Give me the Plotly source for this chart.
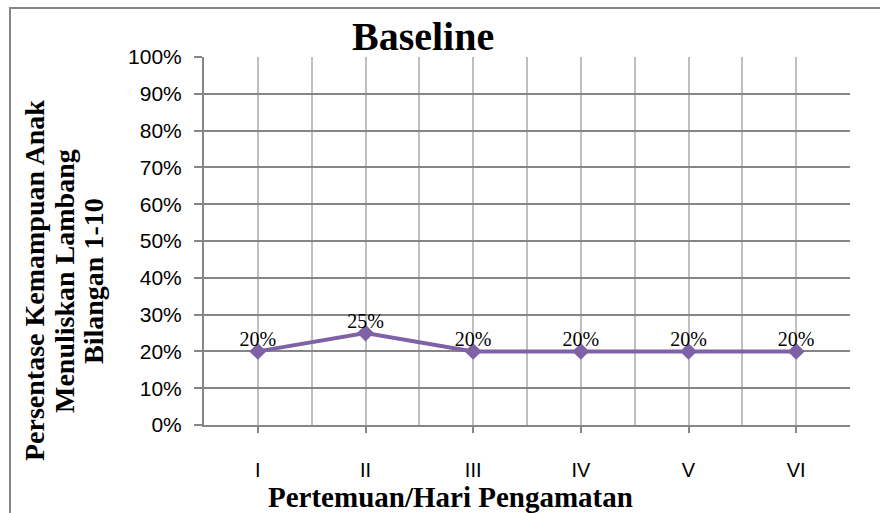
import plotly.graph_objects as go

# Observation sessions and the measured score for each
sessions = ["I", "II", "III", "IV", "V", "VI"]
scores = [0.20, 0.25, 0.20, 0.20, 0.20, 0.20]
score_labels = ["20%", "25%", "20%", "20%", "20%", "20%"]

y_title_lines = ["Persentase Kemampuan Anak", "Menuliskan Lambang", "Bilangan 1-10"]

W, H = 880, 513
L, R, T, B = 204, 30, 57, 88
pw, ph = W - L - R, H - T - B

def px_x(x):
    return (x - L) / pw

def px_y(y):
    return (H - B - y) / ph

grid_dark = "#868686"
grid_light = "#BFBFBF"
purple = "#7F62A6"
serif = "Liberation Serif, Times New Roman, serif"
sans = "Liberation Sans, Arial, sans-serif"

xs = list(range(len(sessions)))

fig = go.Figure()

# score line with diamond markers
fig.add_trace(
    go.Scatter(
        x=xs,
        y=scores,
        mode="lines+markers",
        line=dict(color=purple, width=4),
        marker=dict(symbol="diamond", size=13, color=purple),
        showlegend=False,
        hoverinfo="skip",
    )
)

# value labels sitting just above each point
fig.add_trace(
    go.Scatter(
        x=xs,
        y=scores,
        mode="text",
        text=score_labels,
        textposition="top center",
        textfont=dict(family=serif, size=20, color="black"),
        cliponaxis=False,
        showlegend=False,
    )
)

fig.update_xaxes(
    range=[-0.5, len(sessions) - 0.5],
    tickmode="array",
    tickvals=xs,
    ticktext=sessions,
    ticks="outside",
    ticklen=6,
    tickwidth=2,
    tickcolor=grid_dark,
    ticklabelstandoff=20,
    showgrid=True,
    gridcolor=grid_light,
    gridwidth=1.5,
    minor=dict(tick0=-0.5, dtick=1, showgrid=True, gridcolor=grid_light, gridwidth=1.5),
    showline=True,
    linecolor=grid_dark,
    linewidth=2,
    zeroline=False,
    tickfont=dict(family=sans, size=20, color="black"),
    fixedrange=True,
)

fig.update_yaxes(
    range=[0, 1],
    dtick=0.1,
    tickformat=".0%",
    ticks="outside",
    ticklen=8,
    tickwidth=2,
    tickcolor=grid_dark,
    ticklabelstandoff=8,
    showgrid=True,
    gridcolor=grid_dark,
    gridwidth=1.5,
    showline=True,
    linecolor=grid_dark,
    linewidth=2,
    zeroline=False,
    tickfont=dict(family=sans, size=21, color="black"),
    fixedrange=True,
)

annotations = [
    dict(
        text="<b>Baseline</b>",
        x=px_x(423), y=px_y(37),
        xref="paper", yref="paper",
        xanchor="center", yanchor="middle",
        showarrow=False,
        font=dict(family=serif, size=40, color="black"),
    ),
    dict(
        text="<b>Pertemuan/Hari Pengamatan</b>",
        x=px_x(450), y=px_y(497),
        xref="paper", yref="paper",
        xanchor="center", yanchor="middle",
        showarrow=False,
        font=dict(family=serif, size=29, color="black"),
    ),
]

for xc, line in zip([34, 64, 93], y_title_lines):
    annotations.append(
        dict(
            text=f"<b>{line}</b>",
            x=px_x(xc), y=px_y(281),
            xref="paper", yref="paper",
            xanchor="center", yanchor="middle",
            textangle=-90,
            showarrow=False,
            font=dict(family=serif, size=28, color="black"),
        )
    )

fig.update_layout(
    width=W,
    height=H,
    margin=dict(l=L, r=R, t=T, b=B),
    paper_bgcolor="white",
    plot_bgcolor="white",
    annotations=annotations,
    shapes=[
        dict(
            type="rect",
            xref="paper", yref="paper",
            x0=px_x(10), x1=px_x(895),
            y0=px_y(530), y1=px_y(8),
            line=dict(color=grid_dark, width=2),
            layer="below",
        )
    ],
)

fig.write_html("out.html", config={"displayModeBar": False})
